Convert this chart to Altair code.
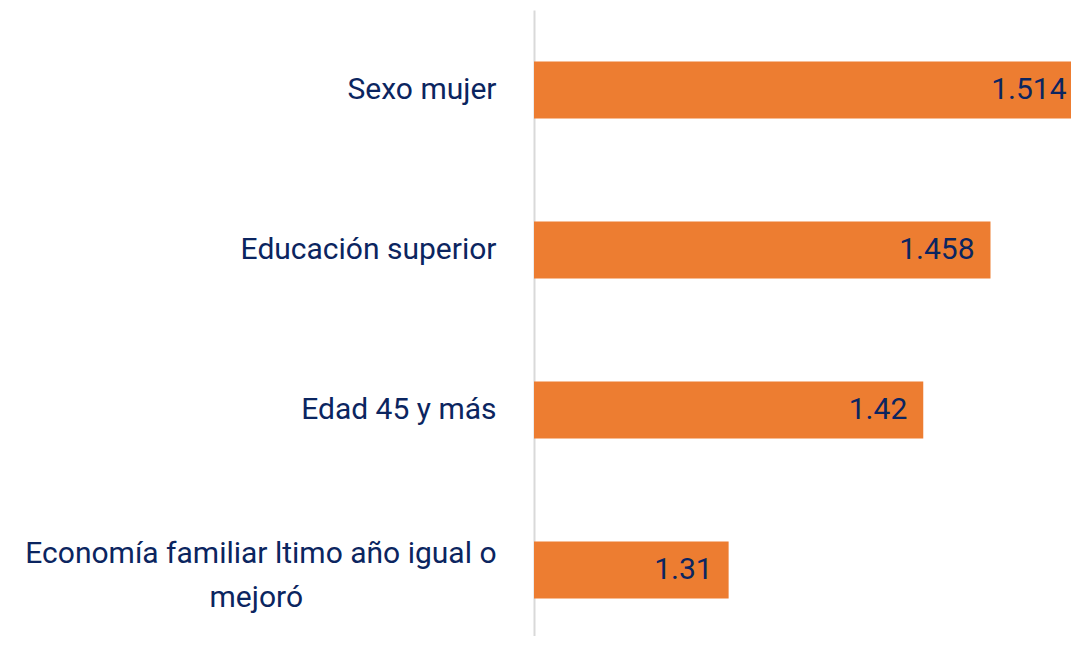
import altair as alt
import pandas as pd

categories = ["Sexo mujer", "Educación superior", "Edad 45 y más",
              "Economía familiar ltimo año igual o|mejoró"]
values = [1.514, 1.458, 1.42, 1.31]
value_labels = ["1.514", "1.458", "1.42", "1.31"]

df = pd.DataFrame({"cat": categories, "val": values, "lab": value_labels})

FONT = "Roboto"
NAVY = "#0B2560"
PAD = "\u00a0" * 26 + "\u200b"
XMAX = 1.5035

y_enc = alt.Y(
    "cat:N", sort=None, title=None,
    scale=alt.Scale(paddingInner=0.644, paddingOuter=0.278, align=0.579),
    axis=alt.Axis(
        ticks=False, domain=True, domainColor="#D9D9D9", domainWidth=2,
        labelFont=FONT, labelFontSize=30, labelColor=NAVY, labelPadding=38,
        labelLimit=0, labelLineHeight=44,
        labelOffset={"condition": {"test": "indexof(datum.value, '|') >= 0", "value": -16}, "value": 0},
        labelExpr="indexof(datum.label, '|') >= 0 ? [split(datum.label, '|')[0], split(datum.label, '|')[1] + '" + PAD + "'] : datum.label",
    ),
)
x_scale = alt.Scale(domain=[1.2, XMAX], zero=False, nice=False)

bars = alt.Chart(df).mark_bar(color="#ED7D31", clip=True).encode(
    x=alt.X("val:Q", scale=x_scale, axis=None), y=y_enc)
texts = alt.Chart(df).transform_calculate(
    lx="min(datum.val, 1.51)"
).mark_text(
    align="right", baseline="middle", dx=-16, font=FONT, fontSize=30, color=NAVY
).encode(x=alt.X("lx:Q", scale=x_scale, axis=None), y=alt.Y("cat:N", sort=None), text="lab:N")

chart = alt.layer(bars, texts).properties(
    width=537, height=626,
    autosize=alt.AutoSizeParams(type="none"),
    padding={"left": 526, "top": 2, "right": 0, "bottom": 0},
).configure_view(stroke=None)

chart.save("out.html", embed_options={"renderer": "svg", "actions": False})
